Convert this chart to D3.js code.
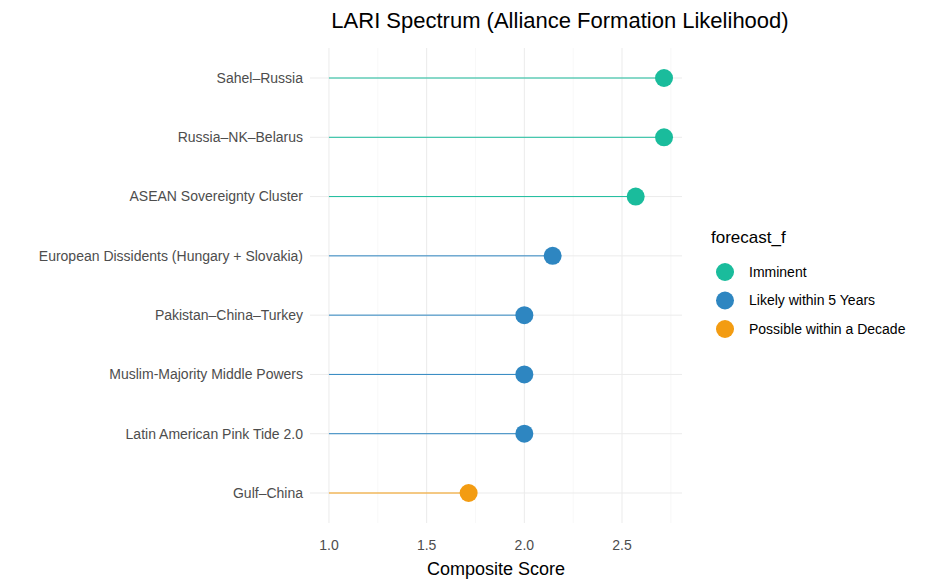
<!DOCTYPE html>
<html><head><meta charset="utf-8">
<script src="https://cdn.jsdelivr.net/npm/d3@7"></script>
<style>body{margin:0;background:#fff;font-family:"Liberation Sans",Arial,sans-serif}</style>
</head><body>
<script>
var categories = ["Sahel–Russia","Russia–NK–Belarus","ASEAN Sovereignty Cluster","European Dissidents (Hungary + Slovakia)","Pakistan–China–Turkey","Muslim-Majority Middle Powers","Latin American Pink Tide 2.0","Gulf–China"];
var scores = [2.715, 2.715, 2.57, 2.145, 2.0, 2.0, 2.0, 1.715];
var forecasts = ["Imminent","Imminent","Imminent","Likely within 5 Years","Likely within 5 Years","Likely within 5 Years","Likely within 5 Years","Possible within a Decade"];
var levels = ["Imminent","Likely within 5 Years","Possible within a Decade"];
var levelColors = ["#1ABC9C","#2E86C1","#F39C12"];
var xTicks = [1.0,1.5,2.0,2.5];

var svg = d3.select("body").append("svg").attr("width",947).attr("height",588);
var x = d3.scaleLinear().domain([0.903,2.807]).range([310,682]);
var y = d3.scalePoint().domain(categories).range([78,493]);
var color = d3.scaleOrdinal().domain(levels).range(levelColors);

// grid
var minor = d3.range(0.75,3.0,0.5).filter(function(v){return v>0.903&&v<2.807;});
svg.selectAll(".gmin").data(minor).enter().append("line")
  .attr("x1",x).attr("x2",x).attr("y1",48).attr("y2",523).attr("stroke","#f3f3f3").attr("stroke-width",0.6);
svg.selectAll(".gmaj").data(xTicks).enter().append("line")
  .attr("x1",x).attr("x2",x).attr("y1",48).attr("y2",523).attr("stroke","#ebebeb").attr("stroke-width",1);
svg.selectAll(".gy").data(categories).enter().append("line")
  .attr("x1",310).attr("x2",682).attr("y1",y).attr("y2",y).attr("stroke","#ebebeb").attr("stroke-width",1);

// lollipops
svg.selectAll(".stem").data(categories).enter().append("line")
  .attr("x1",x(1)).attr("x2",function(d,i){return x(scores[i]);})
  .attr("y1",y).attr("y2",y)
  .attr("stroke",function(d,i){return color(forecasts[i]);}).attr("stroke-width",1);
svg.selectAll(".dot").data(categories).enter().append("circle")
  .attr("cx",function(d,i){return x(scores[i]);}).attr("cy",y).attr("r",9)
  .attr("fill",function(d,i){return color(forecasts[i]);});

// axes labels
svg.selectAll(".yl").data(categories).enter().append("text")
  .attr("x",303).attr("y",y).attr("dy","0.35em").attr("text-anchor","end")
  .attr("font-size",14).attr("fill","#4d4d4d").text(function(d){return d;});
svg.selectAll(".xl").data(xTicks).enter().append("text")
  .attr("x",x).attr("y",550).attr("text-anchor","middle")
  .attr("font-size",14).attr("fill","#4d4d4d").text(d3.format(".1f"));
svg.append("text").attr("x",496).attr("y",575).attr("text-anchor","middle")
  .attr("font-size",18).attr("fill","#000").text("Composite Score");
svg.append("text").attr("x",560).attr("y",28).attr("text-anchor","middle")
  .attr("font-size",22).attr("fill","#000").text("LARI Spectrum (Alliance Formation Likelihood)");

// legend
svg.append("text").attr("x",711).attr("y",243).attr("font-size",17).attr("fill","#000").text("forecast_f");
var lg = svg.selectAll(".lg").data(levels).enter().append("g")
  .attr("transform",function(d,i){return "translate(725,"+(272+i*28.5)+")";});
lg.append("line").attr("x1",-9).attr("x2",9).attr("stroke",color).attr("stroke-width",1);
lg.append("circle").attr("r",9).attr("fill",color);
lg.append("text").attr("x",24).attr("dy","0.35em").attr("font-size",14).attr("fill","#000").text(function(d){return d;});
</script>
</body></html>
